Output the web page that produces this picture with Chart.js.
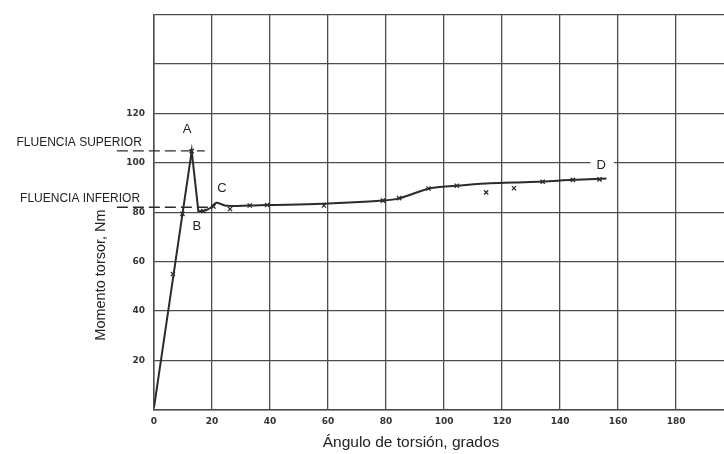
<!DOCTYPE html>
<html>
<head>
<meta charset="utf-8">
<script src="https://cdn.jsdelivr.net/npm/chart.js@4.4.1/dist/chart.umd.min.js"></script>
<style>
  html, body { margin: 0; padding: 0; background: #fff; }
  #wrap { width: 724px; height: 454px; }
</style>
</head>
<body>
<div id="wrap"><canvas id="torsionChart" width="724" height="454"></canvas></div>
<script>
// Angle of twist (degrees) / torque (Nm)
const elasticX = [0, 13, 15.3, 17.5];
const elasticY = [1, 104.7, 80.4, 80.6];

const plateauX = [17.5, 19.5, 21.5, 23, 25, 33, 39, 58, 79, 84.5, 95, 104.5, 114.5, 124, 134, 144.5, 156];
const plateauY = [80.6, 81.8, 83.8, 83.3, 82.6, 82.7, 82.9, 83.4, 84.7, 85.6, 89.6, 90.7, 91.6, 92.0, 92.4, 93.1, 93.6];

const markX = [6.5, 9.8, 13, 17, 20.5, 26.2, 33, 39, 58.6, 78.9, 84.5, 94.6, 104.4, 114.5, 124.1, 134, 144.4, 153.6];
const markY = [55, 79.3, 104.7, 80.5, 82.3, 81.3, 82.7, 82.9, 82.7, 84.7, 85.7, 89.6, 90.7, 88, 89.7, 92.3, 93.1, 93.3];

const upperYield = 104.8;
const lowerYield = 82;

const xTicks = [0, 20, 40, 60, 80, 100, 120, 140, 160, 180];
const yTickLabels = [20, 40, 60, 80, 100, 120];

const ink = "#2b2b2b";
const gridColor = "#4d4d4d";

const toPoints = (xs, ys) => xs.map((x, i) => ({ x: x, y: ys[i] }));

// Text and dashed yield lines, placed through the scales
const annotations = {
  id: "annotations",
  afterDatasetsDraw(chart) {
    const ctx = chart.ctx;
    const xs = chart.scales.x;
    const ys = chart.scales.y;
    const px = (v) => xs.getPixelForValue(v);
    const py = (v) => ys.getPixelForValue(v);

    ctx.save();
    // dashed yield lines
    ctx.strokeStyle = ink;
    ctx.lineWidth = 1.4;
    ctx.setLineDash([11, 5]);
    ctx.beginPath();
    ctx.moveTo(px(-12.8), py(upperYield));
    ctx.lineTo(px(17.5), py(upperYield));
    ctx.moveTo(px(-12.8), py(lowerYield));
    ctx.lineTo(px(19), py(lowerYield));
    ctx.stroke();
    ctx.setLineDash([]);

    // yield labels
    ctx.fillStyle = "#222";
    ctx.font = "12px 'Liberation Sans', Arial, sans-serif";
    ctx.textAlign = "right";
    ctx.textBaseline = "middle";
    ctx.fillText("FLUENCIA SUPERIOR", px(-4.2), py(108));
    ctx.fillText("FLUENCIA INFERIOR", px(-4.8), py(85.6));

    // point letters
    ctx.font = "13px 'Liberation Sans', Arial, sans-serif";
    ctx.textAlign = "center";
    ctx.fillText("A", px(11.4), py(113.6));
    ctx.fillText("B", px(14.8), py(74.4));
    ctx.fillText("C", px(23.4), py(89.6));
    ctx.fillStyle = "#fff";
    ctx.fillRect(px(150.5), py(103), px(158.5) - px(150.5), py(95) - py(103));
    ctx.fillStyle = "#222";
    ctx.fillText("D", px(154.2), py(99));

    // axis titles
    ctx.font = "15.5px 'Liberation Sans', Arial, sans-serif";
    ctx.fillText("Ángulo de torsión, grados", 411, 443);
    ctx.translate(101, 275);
    ctx.rotate(-Math.PI / 2);
    ctx.font = "14.5px 'Liberation Sans', Arial, sans-serif";
    ctx.fillText("Momento torsor, Nm", 0, 0);
    ctx.restore();
  },
};

new Chart(document.getElementById("torsionChart"), {
  type: "scatter",
  data: {
    datasets: [
      {
        label: "elastic",
        data: toPoints(elasticX, elasticY),
        showLine: true,
        tension: 0,
        borderColor: ink,
        borderWidth: 2,
        pointRadius: 0,
      },
      {
        label: "plateau",
        data: toPoints(plateauX, plateauY),
        showLine: true,
        tension: 0.35,
        borderColor: ink,
        borderWidth: 2,
        pointRadius: 0,
      },
      {
        label: "readings",
        data: toPoints(markX, markY),
        showLine: false,
        pointStyle: "crossRot",
        pointRadius: 3,
        borderColor: ink,
        borderWidth: 1.3,
      },
    ],
  },
  options: {
    responsive: false,
    devicePixelRatio: 1,
    animation: false,
    layout: { autoPadding: false, padding: { left: 0, right: 0, top: 10, bottom: 0 } },
    plugins: {
      legend: { display: false },
      tooltip: { enabled: false },
    },
    scales: {
      x: {
        type: "linear",
        min: 0,
        max: 196.5,
        afterFit: (scale) => {
          scale.height = 44;
          scale.paddingRight = 0;
        },
        afterBuildTicks: (scale) => { scale.ticks = xTicks.map((v) => ({ value: v })); },
        grid: { color: gridColor, lineWidth: 1.3, drawTicks: false },
        border: { color: gridColor, width: 1.5 },
        ticks: {
          padding: 6,
          color: "#333",
          font: { family: "'DejaVu Sans', sans-serif", size: 9, weight: "bold" },
        },
      },
      y: {
        type: "linear",
        min: 0,
        max: 160,
        afterFit: (scale) => { scale.width = 154; },
        grid: { color: gridColor, lineWidth: 1.3, drawTicks: false },
        border: { color: gridColor, width: 1.5 },
        ticks: {
          stepSize: 20,
          padding: 9,
          color: "#333",
          font: { family: "'DejaVu Sans', sans-serif", size: 9, weight: "bold" },
          callback: (v) => (yTickLabels.includes(v) ? v : ""),
        },
      },
    },
  },
  plugins: [annotations],
});
</script>
</body>
</html>
